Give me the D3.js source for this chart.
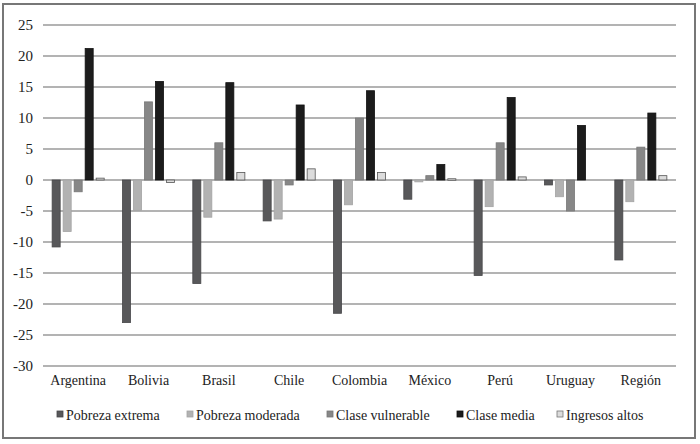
<!DOCTYPE html>
<html>
<head>
<meta charset="utf-8">
<script src="https://cdn.jsdelivr.net/npm/d3@7"></script>
<style>
  body { margin: 0; background: #fff; }
  svg text { font-family: "Liberation Serif", "DejaVu Serif", serif; fill: #222; }
</style>
</head>
<body>
<div id="chart"></div>
<script>
// data (percentage point changes)
const countries = ['Argentina','Bolivia','Brasil','Chile','Colombia','México','Perú','Uruguay','Región'];
const series = ['Pobreza extrema','Pobreza moderada','Clase vulnerable','Clase media','Ingresos altos'];
const pobrezaExtrema   = [-10.8, -23.0, -16.7, -6.6, -21.5, -3.1, -15.4, -0.8, -12.9];
const pobrezaModerada  = [ -8.3,  -4.9,  -6.0, -6.3,  -4.0, -0.3,  -4.3, -2.7,  -3.5];
const claseVulnerable  = [ -1.9,  12.6,   6.0, -0.8,  10.0,  0.7,   6.0, -5.0,   5.3];
const claseMedia       = [ 21.2,  15.9,  15.7, 12.1,  14.4,  2.5,  13.3,  8.8,  10.8];
const ingresosAltos    = [  0.3,  -0.4,   1.2,  1.8,   1.2,  0.2,   0.5,  0.0,   0.7];
const yTicks = [25, 20, 15, 10, 5, 0, -5, -10, -15, -20, -25, -30];

const values = [pobrezaExtrema, pobrezaModerada, claseVulnerable, claseMedia, ingresosAltos];
const fills   = ['#58585a', '#b2b2b2', '#878787', '#1c1c1c', '#dcdcdc'];
const strokes = ['#48484a', '#a4a4a4', '#777777', '#111111', '#555555'];
const serif = '"Liberation Serif", "DejaVu Serif", serif';

const W = 700, H = 444;
const svg = d3.select('#chart').append('svg')
  .attr('width', W).attr('height', H);

// outer frame
svg.append('rect')
  .attr('x', 3).attr('y', 4).attr('width', 692).attr('height', 434)
  .attr('fill', '#fff').attr('stroke', '#777').attr('stroke-width', 2);

const x0 = d3.scaleBand().domain(countries).range([43, 676]).padding(0);
const x1 = d3.scaleBand().domain(series).range([0, x0.bandwidth()])
  .paddingInner(0.27).paddingOuter(0.83);
const y = d3.scaleLinear().domain([-30, 25]).range([366, 25]);

// gridlines
svg.append('g')
  .selectAll('line').data(yTicks).join('line')
    .attr('x1', 43).attr('x2', 676)
    .attr('y1', d => y(d)).attr('y2', d => y(d))
    .attr('stroke', '#9a9a9a').attr('stroke-width', 1.5);

// y axis labels (plain hyphen, as in the source)
const yAxis = svg.append('g')
  .attr('transform', 'translate(33,0)')
  .call(d3.axisLeft(y).tickValues(yTicks).tickFormat(d => String(d)).tickSize(0).tickPadding(0));
yAxis.attr('font-family', serif);
yAxis.select('.domain').remove();
yAxis.selectAll('text')
  .style('font-family', serif)
  .style('font-size', '15px').attr('fill', '#222');

// bars (zero values draw nothing)
const groups = svg.append('g').selectAll('g')
  .data(countries).join('g')
    .attr('transform', d => `translate(${x0(d)},0)`);

groups.selectAll('rect')
  .data((c, i) => series.map((s, k) => ({ s, k, v: values[k][i] })).filter(d => d.v !== 0))
  .join('rect')
    .attr('x', d => x1(d.s))
    .attr('width', x1.bandwidth())
    .attr('y', d => y(Math.max(0, d.v)))
    .attr('height', d => Math.max(Math.abs(y(d.v) - y(0)), 1.5))
    .attr('fill', d => fills[d.k])
    .attr('stroke', d => strokes[d.k])
    .attr('stroke-width', 0.8);

// category labels
const xAxis = svg.append('g')
  .attr('transform', 'translate(0,372)')
  .call(d3.axisBottom(x0).tickSize(0).tickPadding(0));
xAxis.attr('font-family', serif);
xAxis.select('.domain').remove();
xAxis.selectAll('text')
  .attr('dy', '0.9em')
  .style('font-family', serif)
  .style('font-size', '14px').attr('fill', '#222');

// legend
const legendX = [57, 187, 327, 457, 557];
const legend = svg.append('g').selectAll('g')
  .data(series).join('g')
    .attr('transform', (d, i) => `translate(${legendX[i]},415)`);
legend.append('rect')
  .attr('x', 0).attr('y', -4).attr('width', 6).attr('height', 6)
  .attr('fill', (d, i) => fills[i])
  .attr('stroke', (d, i) => i === 4 ? '#777' : strokes[i])
  .attr('stroke-width', 0.8);
legend.append('text')
  .attr('x', 9).attr('y', 0).attr('dy', '0.35em')
  .style('font-family', serif)
  .style('font-size', '14px')
  .text(d => d);
</script>
</body>
</html>
